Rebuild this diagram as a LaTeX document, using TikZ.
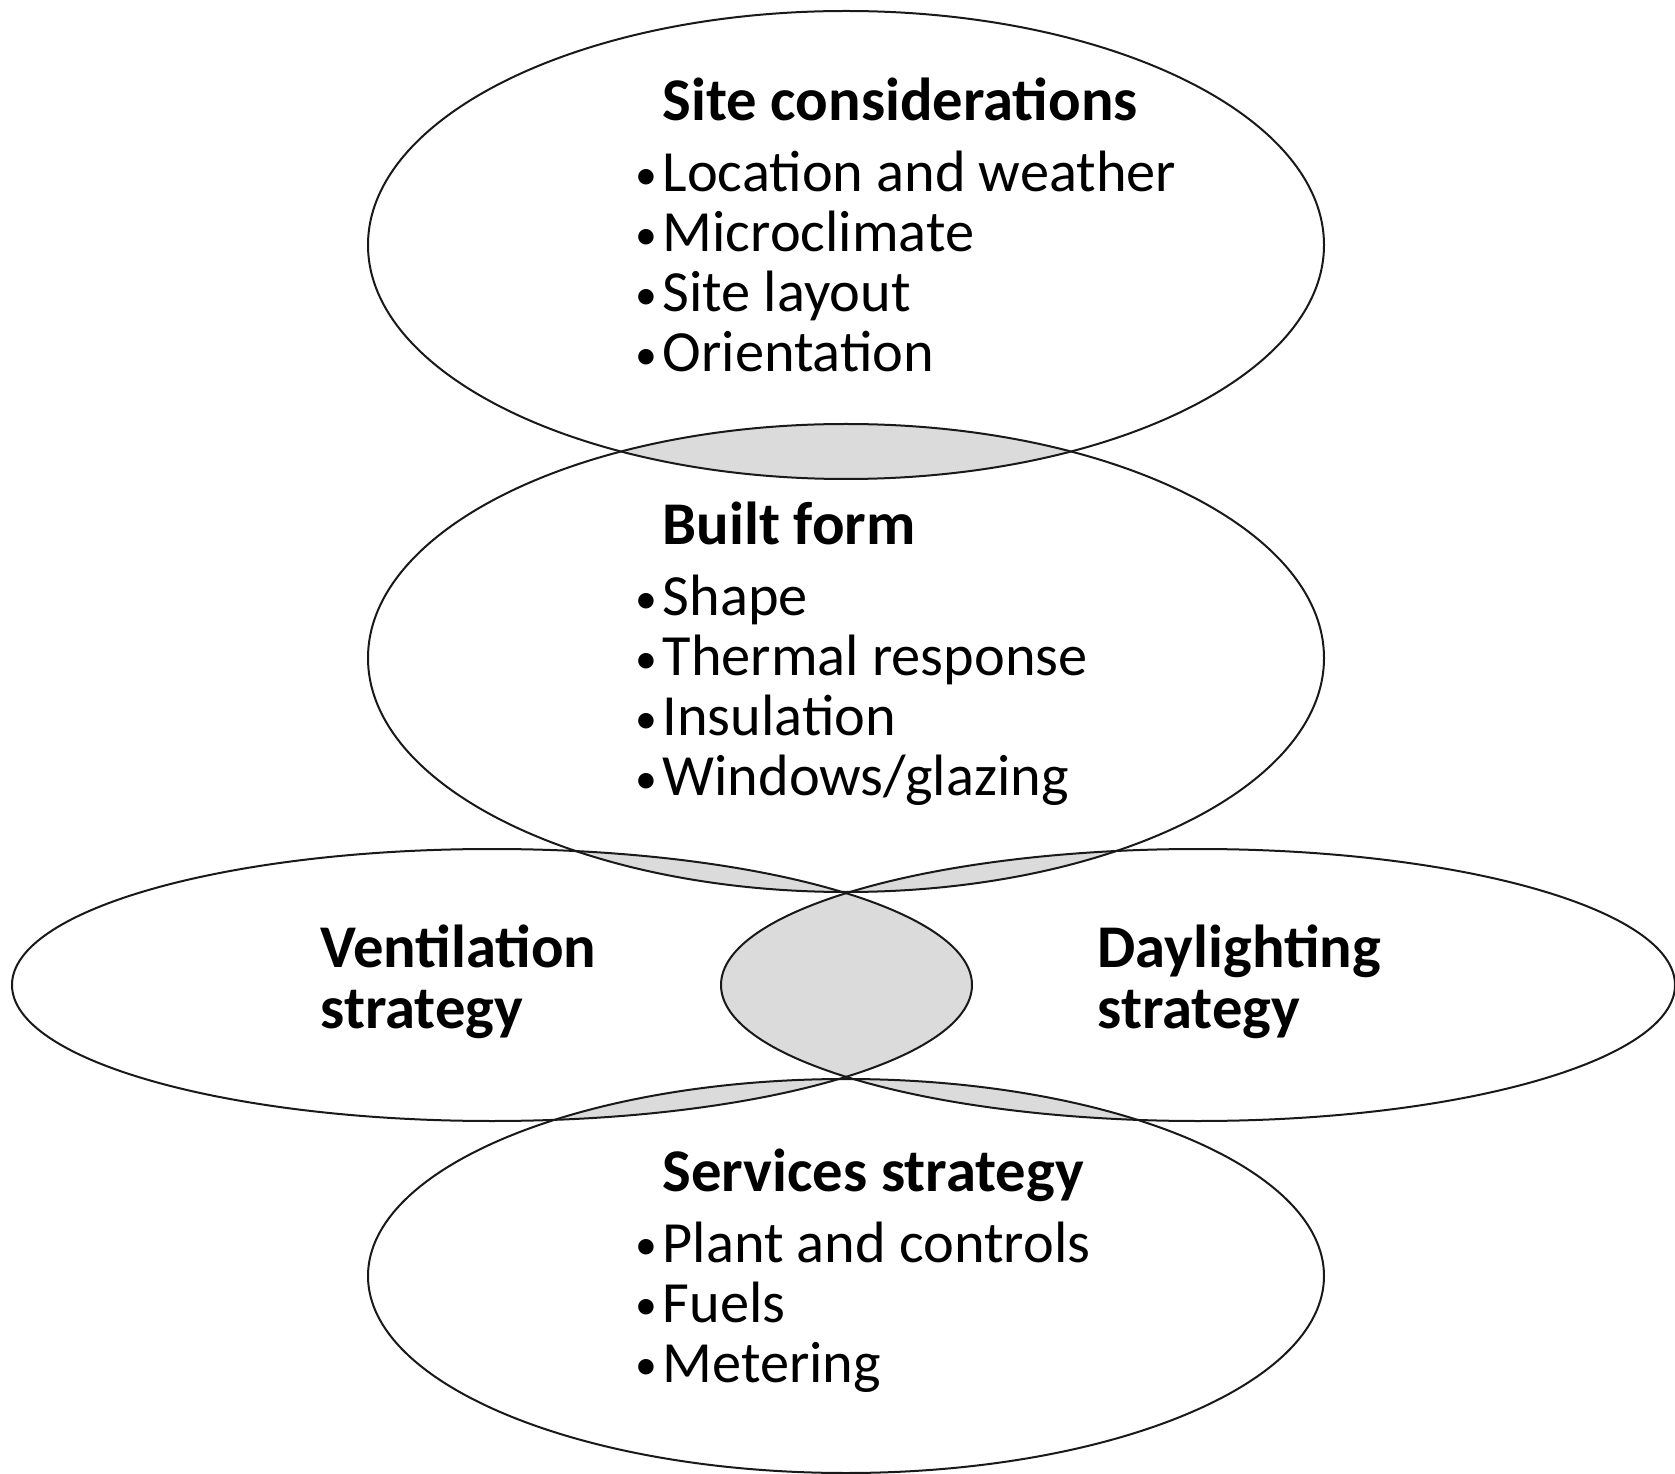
\documentclass[tikz,border=0pt]{standalone}
\usepackage{fontspec}
\setmainfont{Carlito}
\usetikzlibrary{positioning}

% the five ovals, in pixel units
\newcommand{\siteoval}{(846,245) ellipse [x radius=478, y radius=234]}
\newcommand{\builtoval}{(846,658) ellipse [x radius=478, y radius=234]}
\newcommand{\ventoval}{(492,985) ellipse [x radius=480, y radius=136]}
\newcommand{\dayoval}{(1198,985) ellipse [x radius=477, y radius=136]}
\newcommand{\servoval}{(846,1276) ellipse [x radius=478, y radius=197]}
\newcommand{\overlaps}[2]{\begin{scope}\clip #1; \fill[overlap] #2; \end{scope}}
\newcommand{\dotmark}{\llap{\raisebox{0.8pt}{\scalebox{0.75}{\textbullet}}\hspace{1.5pt}}}

\tikzset{
  ring/.style={draw=black!90, line width=0.6pt},
  overlap/.style={fill=black!14},
  head/.style={font=\bfseries\fontsize{18.2}{20}\selectfont, inner sep=0pt, anchor=base west},
  item/.style={font=\fontsize{17.5}{20}\selectfont, inner sep=0pt, anchor=base west},
}

\begin{document}
\begin{tikzpicture}[x=0.3pt, y=-0.3pt]
  \useasboundingbox (0,0) rectangle (1675,1474);

  % shaded overlaps
  \overlaps{\siteoval}{\builtoval}
  \overlaps{\builtoval}{\ventoval}
  \overlaps{\builtoval}{\dayoval}
  \overlaps{\ventoval}{\dayoval}
  \overlaps{\ventoval}{\servoval}
  \overlaps{\dayoval}{\servoval}

  % outlines
  \draw[ring] \siteoval;
  \draw[ring] \builtoval;
  \draw[ring] \ventoval;
  \draw[ring] \dayoval;
  \draw[ring] \servoval;

  % site considerations
  \node[head] (site) at (662,121) {Site considerations};
  \foreach \t [count=\i] in {Location and weather, Microclimate, Site layout, Orientation}
    \node[item] (site\i) at (662,{192+60*(\i-1)}) {\dotmark\t};

  % built form
  \node[head] (built) at (662,545) {Built form};
  \foreach \t [count=\i] in {Shape, Thermal response, Insulation, Windows/glazing}
    \node[item] (built\i) at (662,{616+60*(\i-1)}) {\dotmark\t};

  % side ovals
  \node[head] (vent) at (320,967) {Ventilation};
  \node[head] (vent2) at (320,1028) {strategy};
  \node[head] (day) at (1097,967) {Daylighting};
  \node[head] (day2) at (1097,1028) {strategy};

  % services strategy
  \node[head] (serv) at (662,1191) {Services strategy};
  \foreach \t [count=\i] in {Plant and controls, Fuels, Metering}
    \node[item] (serv\i) at (662,{1262+60*(\i-1)}) {\dotmark\t};
\end{tikzpicture}
\end{document}
